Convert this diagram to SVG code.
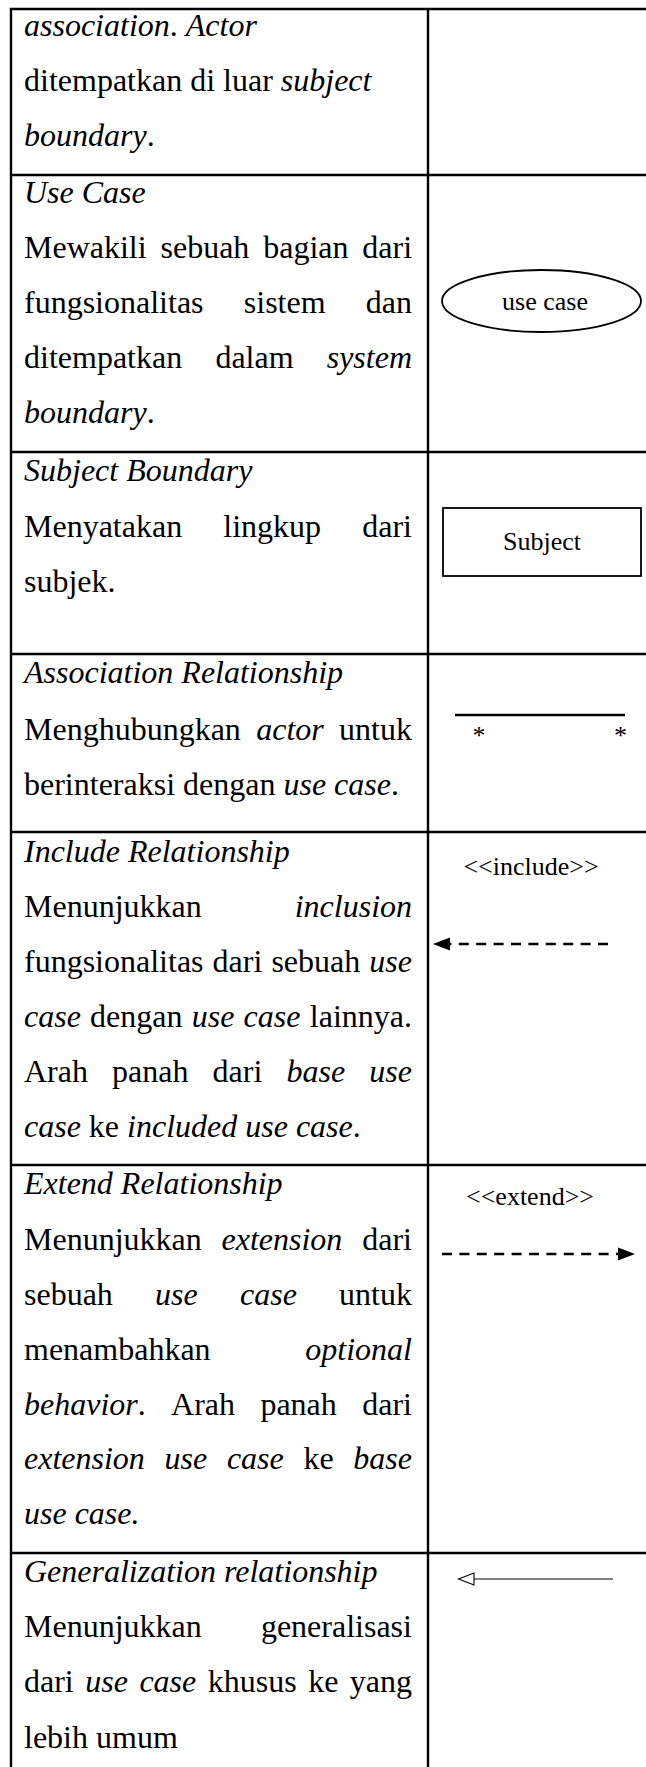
<svg xmlns="http://www.w3.org/2000/svg" width="646" height="1767" viewBox="0 0 646 1767">
<style>
.t{font-family:"Liberation Serif","Times New Roman",serif;font-size:32px;fill:#000}
.s{font-family:"Liberation Serif","Times New Roman",serif;font-size:26px;fill:#000}
.i{font-style:italic}
.m{text-anchor:middle}
.grid{stroke:#000;stroke-width:2.4;fill:none}
.shape{stroke:#000;stroke-width:1.8;fill:none}
.dash{stroke:#000;stroke-width:2.6;stroke-dasharray:10 7.4;fill:none}
</style>
<defs>
<marker id="filled" markerUnits="userSpaceOnUse" markerWidth="18" markerHeight="14" refX="0" refY="7" orient="auto" overflow="visible">
<path d="M0,0.5 L17,7 L0,13.5 Z" fill="#000"/>
</marker>
<marker id="hollow" markerUnits="userSpaceOnUse" markerWidth="18" markerHeight="14" refX="0" refY="6.5" orient="auto" overflow="visible">
<path d="M0,0.5 L15.5,6.5 L0,12.5 Z" fill="#fff" stroke="#000" stroke-width="1.1"/>
</marker>
</defs>

<g id="table-grid" class="grid">
<line x1="10" y1="9" x2="646" y2="9"/>
<line x1="11" y1="8" x2="11" y2="1767"/>
<line x1="428" y1="8" x2="428" y2="1767"/>
<line x1="10" y1="175" x2="646" y2="175"/>
<line x1="10" y1="452" x2="646" y2="452"/>
<line x1="10" y1="654" x2="646" y2="654"/>
<line x1="10" y1="832" x2="646" y2="832"/>
<line x1="10" y1="1165" x2="646" y2="1165"/>
<line x1="10" y1="1553" x2="646" y2="1553"/>
</g>

<g id="row-actor-end">
<text class="t" x="24" y="36"><tspan class="i">association</tspan>. <tspan class="i">Actor</tspan></text>
<text class="t" x="24" y="91">ditempatkan di luar <tspan class="i">subject</tspan></text>
<text class="t" x="24" y="146"><tspan class="i">boundary</tspan>.</text>
</g>

<g id="row-use-case">
<text class="t i" x="24" y="203">Use Case</text>
<text class="t" y="258"><tspan x="24">Mewakili</tspan><tspan x="160.5">sebuah</tspan><tspan x="263.2">bagian</tspan><tspan x="362.3">dari</tspan></text>
<text class="t" y="313"><tspan x="24">fungsionalitas</tspan><tspan x="243.8">sistem</tspan><tspan x="365.8">dan</tspan></text>
<text class="t" y="368"><tspan x="24">ditempatkan</tspan><tspan x="215.4">dalam</tspan><tspan x="326.7" class="i">system</tspan></text>
<text class="t" x="24" y="423"><tspan class="i">boundary</tspan>.</text>
<g id="use-case-symbol">
<ellipse class="shape" cx="541.5" cy="301" rx="99.5" ry="31"/>
<text class="s m" x="545" y="310">use case</text>
</g>
</g>

<g id="row-subject-boundary">
<text class="t i" x="24" y="481">Subject Boundary</text>
<text class="t" y="537"><tspan x="24">Menyatakan</tspan><tspan x="223.3">lingkup</tspan><tspan x="362.2">dari</tspan></text>
<text class="t" x="24" y="592">subjek.</text>
<g id="subject-symbol">
<rect class="shape" x="443" y="508" width="198" height="68"/>
<text class="s m" x="542" y="550">Subject</text>
</g>
</g>

<g id="row-association">
<text class="t i" x="24" y="683">Association Relationship</text>
<text class="t" y="740"><tspan x="24">Menghubungkan</tspan><tspan x="256.2" class="i">actor</tspan><tspan x="339.1">untuk</tspan></text>
<text class="t" x="24" y="795">berinteraksi dengan <tspan class="i">use case</tspan>.</text>
<text class="s m" x="479" y="744">*</text>
<text class="s m" x="620.5" y="744">*</text>
</g>

<g id="row-include">
<text class="t i" x="24" y="862">Include Relationship</text>
<text class="t" y="917"><tspan x="24">Menunjukkan</tspan><tspan x="294.7" class="i">inclusion</tspan></text>
<text class="t" y="972"><tspan x="24">fungsionalitas</tspan><tspan x="212.6">dari</tspan><tspan x="271.4">sebuah</tspan><tspan x="369.3" class="i">use</tspan></text>
<text class="t" y="1027"><tspan x="24" class="i">case</tspan><tspan x="90.1">dengan</tspan><tspan x="191.7" class="i">use</tspan><tspan x="243.6" class="i">case</tspan><tspan x="309.8">lainnya.</tspan></text>
<text class="t" y="1082"><tspan x="24">Arah</tspan><tspan x="112.1">panah</tspan><tspan x="212.6">dari</tspan><tspan x="286.5" class="i">base</tspan><tspan x="369.3" class="i">use</tspan></text>
<text class="t" x="24" y="1137"><tspan class="i">case</tspan> ke <tspan class="i">included use case</tspan>.</text>
<text class="s m" x="531" y="875">&lt;&lt;include&gt;&gt;</text>
</g>

<g id="row-extend">
<text class="t i" x="24" y="1194">Extend Relationship</text>
<text class="t" y="1250"><tspan x="24">Menunjukkan</tspan><tspan x="221.5" class="i">extension</tspan><tspan x="362.2">dari</tspan></text>
<text class="t" y="1305"><tspan x="24">sebuah</tspan><tspan x="155.1" class="i">use</tspan><tspan x="240" class="i">case</tspan><tspan x="339.1">untuk</tspan></text>
<text class="t" y="1360"><tspan x="24">menambahkan</tspan><tspan x="305.3" class="i">optional</tspan></text>
<text class="t" y="1415"><tspan x="24"><tspan class="i">behavior</tspan>.</tspan><tspan x="171.1">Arah</tspan><tspan x="260.4">panah</tspan><tspan x="362.2">dari</tspan></text>
<text class="t" y="1469"><tspan x="24" class="i">extension</tspan><tspan x="164.5" class="i">use</tspan><tspan x="226.9" class="i">case</tspan><tspan x="303.4">ke</tspan><tspan x="353.3" class="i">base</tspan></text>
<text class="t i" x="24" y="1524">use case.</text>
<text class="s m" x="530" y="1205">&lt;&lt;extend&gt;&gt;</text>
</g>

<g id="row-generalization">
<text class="t i" x="24" y="1582">Generalization relationship</text>
<text class="t" y="1637"><tspan x="24">Menunjukkan</tspan><tspan x="260.9">generalisasi</tspan></text>
<text class="t" y="1692"><tspan x="24">dari</tspan><tspan x="85.3" class="i">use</tspan><tspan x="139.4" class="i">case</tspan><tspan x="207.8">khusus</tspan><tspan x="308.2">ke</tspan><tspan x="349.8">yang</tspan></text>
<text class="t" x="24" y="1748">lebih umum</text>
</g>

<g id="connectors">
<line id="association-line" x1="455" y1="715" x2="625" y2="715" stroke="#000" stroke-width="2.7"/>
<line id="include-arrow" class="dash" x1="608" y1="944" x2="450" y2="944" marker-end="url(#filled)"/>
<line id="extend-arrow" class="dash" x1="442" y1="1254" x2="618" y2="1254" marker-end="url(#filled)"/>
<line id="generalization-arrow" x1="613" y1="1579" x2="474" y2="1579" stroke="#000" stroke-width="1.2" marker-end="url(#hollow)"/>
</g>
</svg>
